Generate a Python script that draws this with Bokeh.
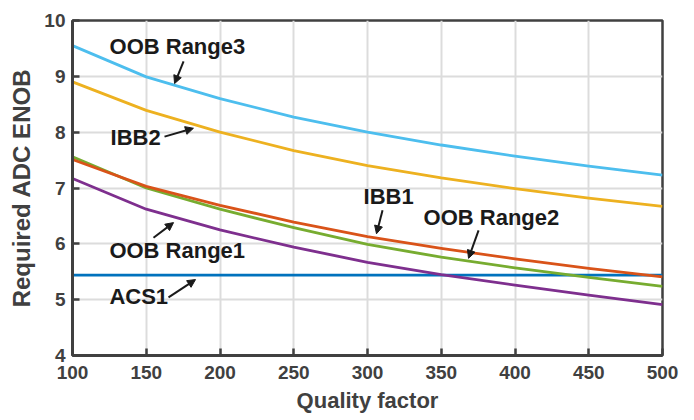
from bokeh.plotting import figure
from bokeh.models import Arrow, NormalHead, FixedTicker, Range1d
from bokeh.core.properties import value
from bokeh.embed import file_html
from bokeh.resources import INLINE

# Data
quality = [100, 150, 200, 250, 300, 350, 400, 450, 500]
oob_range3 = [9.55, 8.99, 8.60, 8.27, 8.00, 7.77, 7.57, 7.39, 7.23]
ibb2 = [8.90, 8.39, 8.00, 7.67, 7.40, 7.18, 6.99, 6.82, 6.67]
ibb1 = [7.51, 7.03, 6.69, 6.39, 6.13, 5.92, 5.73, 5.56, 5.41]
oob_range2 = [7.56, 7.00, 6.62, 6.29, 5.99, 5.76, 5.57, 5.40, 5.24]
oob_range1 = [7.17, 6.62, 6.25, 5.94, 5.67, 5.45, 5.26, 5.08, 4.91]
acs1 = [5.44, 5.44, 5.44, 5.44, 5.44, 5.44, 5.44, 5.44, 5.44]

x_ticks = [100, 150, 200, 250, 300, 350, 400, 450, 500]
y_ticks = [4, 5, 6, 7, 8, 9, 10]

FONT = "Liberation Sans"
DARK = "#404040"

p = figure(width=694, height=420, output_backend="svg", toolbar_location=None,
           x_range=Range1d(100, 500), y_range=Range1d(4, 10),
           min_border_left=72, min_border_right=32, min_border_top=20, min_border_bottom=65)

p.background_fill_color = "white"
p.border_fill_color = "white"
p.outline_line_color = DARK
p.outline_line_width = 2.5

p.xaxis.ticker = FixedTicker(ticks=x_ticks)
p.yaxis.ticker = FixedTicker(ticks=y_ticks)
for ax in (p.xaxis[0], p.yaxis[0]):
    ax.axis_line_color = DARK
    ax.axis_line_width = 3
    ax.major_tick_line_color = DARK
    ax.major_tick_line_width = 2.5
    ax.major_tick_in = 7
    ax.major_tick_out = 0
    ax.minor_tick_line_color = None
    ax.major_label_text_font = FONT
    ax.major_label_text_font_style = "bold"
    ax.major_label_text_font_size = "19px"
    ax.major_label_text_color = DARK
    ax.axis_label_text_font = FONT
    ax.axis_label_text_font_style = "bold"
    ax.axis_label_text_color = DARK
p.xaxis.axis_label = "Quality factor"
p.yaxis.axis_label = "Required ADC ENOB"
p.xaxis.axis_label_text_font_size = "22px"
p.yaxis.axis_label_text_font_size = "24px"
p.xaxis.major_label_standoff = 10
p.yaxis.major_label_standoff = 7
p.xaxis.axis_label_standoff = 6
p.yaxis.axis_label_standoff = 6

p.xgrid.grid_line_color = "#dcdcdc"
p.ygrid.grid_line_color = "#dcdcdc"
p.xgrid.grid_line_width = 2
p.ygrid.grid_line_width = 2

series = [
    (acs1, "#0072BD"),
    (oob_range1, "#7E2F8E"),
    (oob_range2, "#77AC30"),
    (ibb1, "#D95319"),
    (ibb2, "#EDB120"),
    (oob_range3, "#4DBEEE"),
]
for ys, col in series:
    p.line(quality, ys, line_color=col, line_width=2.8, line_join="round")

# Annotations (positions in data units)
labels = ["OOB Range3", "IBB2", "IBB1", "OOB Range2", "OOB Range1", "ACS1"]
lx = [125.1, 125.8, 297.3, 338.0, 125.0, 125.0]
ly = [9.53, 7.90, 6.85, 6.47, 5.88, 5.05]
p.text(x=lx, y=ly, text=labels, text_font=value(FONT), text_font_style="bold",
       text_font_size="22px", text_color="#1a1a1a", text_align="left",
       text_baseline="middle")

arrows = [
    (175.3, 9.27, 169.2, 8.87),
    (162.4, 7.92, 182.0, 8.07),
    (154.9, 6.11, 168.5, 6.38),
    (165.1, 5.04, 183.4, 5.36),
    (310.2, 6.60, 306.1, 6.18),
    (375.3, 6.24, 368.5, 5.74),
]
for xs, ys, xe, ye in arrows:
    p.add_layout(Arrow(end=NormalHead(size=8, fill_color="#1a1a1a", line_color="#1a1a1a"),
                       x_start=xs, y_start=ys, x_end=xe, y_end=ye,
                       line_color="#1a1a1a", line_width=2))

open("out.html", "w").write(file_html(p, INLINE))
